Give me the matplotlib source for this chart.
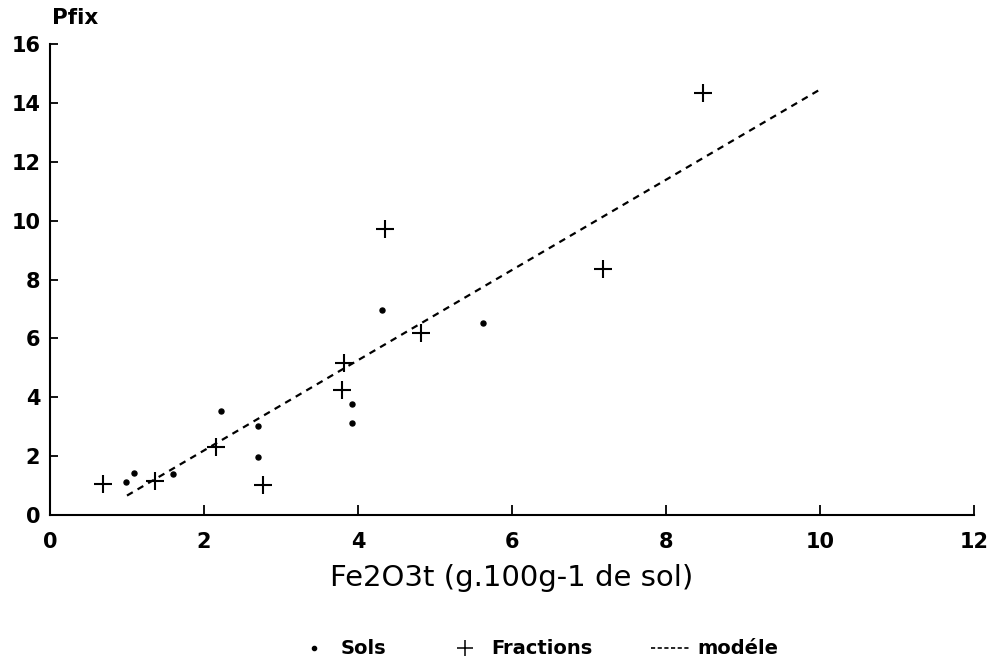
import matplotlib
matplotlib.use("Agg")
import matplotlib.pyplot as plt
from matplotlib.lines import Line2D

# Data
sols_x = [0.99, 1.09, 1.60, 2.22, 2.70, 2.70, 3.92, 3.92, 4.31, 5.62]
sols_y = [1.12, 1.43, 1.39, 3.54, 3.03, 1.97, 3.78, 3.13, 6.97, 6.53]

fractions_x = [0.69, 1.36, 2.16, 2.77, 3.79, 3.82, 4.35, 4.82, 7.18, 8.48]
fractions_y = [1.05, 1.16, 2.31, 1.02, 4.25, 5.17, 9.73, 6.19, 8.37, 14.35]

model_x = [1.00, 10.03]
model_y = [0.66, 14.50]

x_ticks = [0, 2, 4, 6, 8, 10, 12]
y_ticks = [0, 2, 4, 6, 8, 10, 12, 14, 16]

plt.rcParams['font.family'] = ['DejaVu Sans']

fig = plt.figure(figsize=(9.9, 6.65), dpi=100)
ax = fig.add_axes([50/990, 1-515/665, (974-50)/990, (515-44)/665])

ax.plot(sols_x, sols_y, linestyle='none', marker='o', markersize=3.6,
        color='black')
ax.plot(fractions_x, fractions_y, linestyle='none', marker='+', markersize=13,
        markeredgewidth=1.5, color='black')
ax.plot(model_x, model_y, linestyle=(0, (3, 2.5)), linewidth=1.6, color='black')

ax.set_xlim(0, 12)
ax.set_ylim(0, 16)
ax.set_xticks(x_ticks)
ax.set_yticks(y_ticks)
ax.set_xticklabels([str(v) for v in x_ticks], fontsize=15, fontweight='bold')
ax.set_yticklabels([str(v) for v in y_ticks], fontsize=15, fontweight='bold')

for s in ['top', 'right']:
    ax.spines[s].set_visible(False)
for s in ['left', 'bottom']:
    ax.spines[s].set_linewidth(1.5)

ax.tick_params(axis='x', direction='in', length=7, width=1.3, pad=12)
ax.tick_params(axis='y', direction='in', length=6, width=1.3, pad=7)

ax.set_xlabel('Fe2O3t (g.100g-1 de sol)', fontsize=21, labelpad=9)
ax.text(0.002, 1.035, 'Pfix', transform=ax.transAxes, fontsize=15.5, fontweight='bold',
        ha='left', va='bottom')

# legend proxies (smaller symbols, as in the reference legend)
p_sols = Line2D([], [], linestyle='none', marker='o', markersize=3, color='black')
p_frac = Line2D([], [], linestyle='none', marker='+', markersize=11,
                markeredgewidth=1.1, color='black')
p_mod = Line2D([], [], linestyle=(0, (2.5, 1.5)), linewidth=1.2, color='black')

fig.legend(handles=[p_sols, p_frac, p_mod], labels=['Sols', 'Fractions', 'modéle'],
           loc='center', bbox_to_anchor=(536/990, 1-649/665), ncol=3, frameon=False,
           prop={'size': 14, 'weight': 'bold'}, handlelength=2.1,
           columnspacing=3.0, handletextpad=0.3)

fig.savefig('out.png', dpi=100)
